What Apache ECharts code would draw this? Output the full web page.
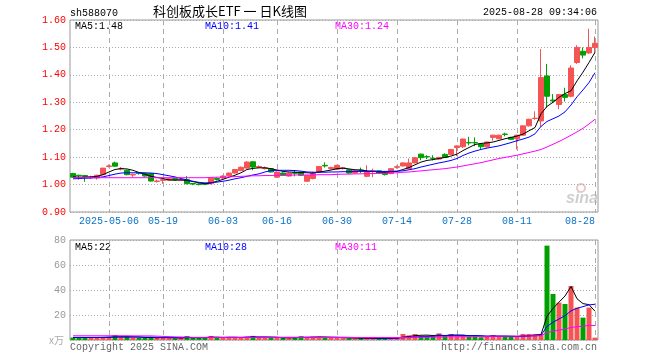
<!DOCTYPE html>
<html><head><meta charset="utf-8">
<script src="https://cdn.jsdelivr.net/npm/echarts@6/dist/echarts.min.js"></script>
<style>html,body{margin:0;padding:0;background:#fff}#c{width:660px;height:360px}</style>
</head><body><div id="c"></div>
<script>
const dates = [
'2025-04-23','2025-04-24','2025-04-25','2025-04-28','2025-04-29','2025-04-30',
'2025-05-06','2025-05-07','2025-05-08','2025-05-09','2025-05-12','2025-05-13','2025-05-14','2025-05-15','2025-05-16','2025-05-19','2025-05-20','2025-05-21','2025-05-22','2025-05-23','2025-05-26','2025-05-27','2025-05-28','2025-05-29','2025-05-30',
'2025-06-03','2025-06-04','2025-06-05','2025-06-06','2025-06-09','2025-06-10','2025-06-11','2025-06-12','2025-06-13','2025-06-16','2025-06-17','2025-06-18','2025-06-19','2025-06-20','2025-06-23','2025-06-24','2025-06-25','2025-06-26','2025-06-27','2025-06-30',
'2025-07-01','2025-07-02','2025-07-03','2025-07-04','2025-07-07','2025-07-08','2025-07-09','2025-07-10','2025-07-11','2025-07-14','2025-07-15','2025-07-16','2025-07-17','2025-07-18','2025-07-21','2025-07-22','2025-07-23','2025-07-24','2025-07-25','2025-07-28','2025-07-29','2025-07-30','2025-07-31',
'2025-08-01','2025-08-04','2025-08-05','2025-08-06','2025-08-07','2025-08-08','2025-08-11','2025-08-12','2025-08-13','2025-08-14','2025-08-15','2025-08-18','2025-08-19','2025-08-20','2025-08-21','2025-08-22','2025-08-25','2025-08-26','2025-08-27','2025-08-28'
];
const opens = [
1.040,1.034,1.033,1.026,1.024,1.036,
1.066,1.079,1.057,1.052,1.035,1.043,1.040,1.040,1.011,1.015,1.016,1.022,1.016,1.018,1.004,1.002,1.004,1.003,1.022,
1.024,1.033,1.042,1.051,1.060,1.083,1.063,1.058,1.058,1.027,1.042,1.031,1.043,1.045,1.012,1.022,1.046,1.070,1.058,1.056,
1.058,1.054,1.042,1.053,1.030,1.049,1.050,1.046,1.040,1.063,1.068,1.058,1.079,1.111,1.102,1.096,1.093,1.110,1.110,1.135,1.138,1.153,1.153,
1.148,1.138,1.172,1.167,1.184,1.172,1.167,1.180,1.214,1.241,1.232,1.396,1.308,1.292,1.328,1.322,1.445,1.486,1.480,1.500
];
const closes = [
1.027,1.032,1.030,1.028,1.034,1.060,
1.068,1.067,1.059,1.036,1.037,1.041,1.031,1.013,1.013,1.018,1.021,1.017,1.018,1.003,1.002,1.000,1.001,1.023,1.019,
1.031,1.042,1.055,1.063,1.082,1.064,1.066,1.061,1.046,1.046,1.034,1.042,1.041,1.034,1.033,1.040,1.066,1.068,1.062,1.070,
1.061,1.042,1.052,1.051,1.046,1.051,1.042,1.037,1.058,1.065,1.079,1.079,1.098,1.098,1.101,1.095,1.099,1.099,1.128,1.141,1.166,1.152,1.152,
1.138,1.155,1.180,1.180,1.183,1.165,1.180,1.214,1.238,1.242,1.390,1.322,1.305,1.328,1.318,1.425,1.500,1.472,1.500,1.515
];
const lows = [
1.025,1.018,1.010,1.020,1.018,1.035,
1.062,1.065,1.052,1.034,1.028,1.036,1.029,1.011,1.007,1.003,1.014,1.015,1.013,1.001,0.998,0.997,0.998,1.001,1.015,
1.020,1.031,1.040,1.049,1.058,1.052,1.060,1.055,1.044,1.025,1.031,1.029,1.030,1.031,1.010,1.019,1.044,1.062,1.055,1.054,
1.055,1.040,1.040,1.042,1.027,1.027,1.040,1.033,1.038,1.058,1.066,1.056,1.077,1.089,1.093,1.088,1.090,1.097,1.108,1.104,1.133,1.143,1.140,
1.128,1.135,1.160,1.165,1.176,1.163,1.128,1.178,1.212,1.236,1.210,1.280,1.297,1.275,1.303,1.318,1.440,1.460,1.476,1.478
];
const highs = [
1.043,1.036,1.035,1.032,1.036,1.061,
1.073,1.084,1.064,1.054,1.040,1.046,1.042,1.042,1.018,1.020,1.023,1.024,1.020,1.031,1.006,1.004,1.006,1.024,1.026,
1.034,1.044,1.057,1.066,1.085,1.086,1.070,1.066,1.060,1.048,1.045,1.044,1.053,1.048,1.035,1.047,1.068,1.081,1.065,1.072,
1.064,1.056,1.054,1.062,1.070,1.058,1.052,1.048,1.060,1.070,1.081,1.095,1.100,1.113,1.107,1.107,1.101,1.114,1.130,1.143,1.168,1.174,1.172,
1.150,1.157,1.182,1.182,1.189,1.174,1.182,1.216,1.240,1.267,1.494,1.440,1.330,1.330,1.353,1.435,1.508,1.500,1.568,1.540
];
const ma5 = [
1.028,1.027,1.027,1.028,1.030,1.036,
1.046,1.055,1.058,1.057,1.052,1.044,1.038,1.030,1.026,1.022,1.017,1.016,1.017,1.015,1.011,1.006,1.003,1.006,1.012,
1.019,1.027,1.034,1.043,1.055,1.059,1.061,1.061,1.058,1.053,1.048,1.046,1.045,1.044,1.043,1.042,1.046,1.049,1.053,1.058,
1.060,1.057,1.054,1.053,1.050,1.048,1.046,1.045,1.047,1.048,1.055,1.062,1.072,1.082,1.088,1.091,1.095,1.099,1.104,1.111,1.124,1.135,1.146,
1.150,1.152,1.155,1.161,1.167,1.172,1.177,1.184,1.196,1.208,1.258,1.285,1.300,1.318,1.332,1.342,1.378,1.410,1.445,1.482
];
const ma10 = [
1.021,1.022,1.023,1.024,1.026,1.028,
1.033,1.038,1.042,1.043,1.043,1.043,1.043,1.042,1.040,1.036,1.032,1.028,1.022,1.017,1.012,1.008,1.006,1.007,1.009,
1.012,1.016,1.021,1.025,1.030,1.035,1.039,1.046,1.051,1.052,1.052,1.052,1.051,1.049,1.046,1.045,1.045,1.045,1.046,1.046,
1.047,1.047,1.048,1.048,1.048,1.048,1.048,1.048,1.048,1.049,1.050,1.054,1.058,1.064,1.069,1.074,1.079,1.083,1.088,1.095,1.106,1.115,1.122,
1.128,1.133,1.137,1.141,1.147,1.153,1.160,1.166,1.173,1.185,1.212,1.230,1.240,1.250,1.265,1.290,1.320,1.345,1.372,1.408
];
const ma30 = [
1.025,1.025,1.025,1.025,1.025,1.025,
1.025,1.025,1.025,1.025,1.025,1.025,1.025,1.025,1.025,1.025,1.025,1.025,1.025,1.025,1.025,1.025,1.025,1.026,1.027,
1.027,1.028,1.029,1.030,1.031,1.032,1.032,1.033,1.033,1.034,1.034,1.034,1.035,1.035,1.035,1.035,1.036,1.036,1.036,1.037,
1.038,1.038,1.039,1.039,1.040,1.040,1.041,1.041,1.042,1.043,1.045,1.046,1.048,1.050,1.052,1.054,1.056,1.058,1.061,1.064,1.068,1.072,1.076,
1.080,1.085,1.090,1.095,1.099,1.103,1.107,1.112,1.117,1.122,1.128,1.137,1.147,1.157,1.168,1.180,1.192,1.205,1.221,1.238
];
const volumes = [
2.0,1.8,2.2,1.8,1.9,2.4,
2.6,4.0,2.2,2.4,1.8,1.7,1.6,2.3,1.8,1.9,1.5,1.4,1.6,3.2,1.8,1.6,1.7,3.2,2.0,
1.9,2.1,2.0,2.2,2.6,3.3,2.0,1.8,1.7,2.0,1.6,1.5,2.3,3.0,2.2,2.6,2.4,2.0,1.8,1.6,
1.5,1.3,1.2,1.3,1.5,1.2,1.1,1.3,1.9,2.4,4.8,3.7,4.8,3.2,3.3,3.0,5.3,3.2,4.8,3.0,3.2,2.6,2.5,
2.2,3.0,4.0,2.6,2.5,2.4,3.2,4.8,4.8,4.6,4.8,75.5,36.8,29.9,28.8,43.2,25.9,17.9,25.9,1.9
];
const volMa5 = [
2.0,2.0,2.0,2.0,2.0,2.1,
2.2,2.6,2.7,2.7,2.6,2.5,2.0,2.0,1.8,1.9,1.8,1.7,1.6,1.9,1.9,1.9,2.0,2.3,2.3,
2.1,2.2,2.2,2.0,2.2,2.4,2.4,2.4,2.3,2.2,1.8,1.7,1.8,2.1,2.1,2.3,2.5,2.4,2.2,2.1,
1.9,1.6,1.5,1.4,1.4,1.3,1.3,1.3,1.4,1.6,2.3,2.8,3.5,3.8,3.9,3.6,3.9,3.6,3.9,3.9,3.9,3.4,3.2,
2.7,2.7,2.9,2.9,2.9,2.9,2.9,3.1,3.5,4.0,4.4,18.9,25.3,30.3,35.2,42.8,33.0,29.1,28.3,23.0
];
const volMa10 = [
2.1,2.1,2.1,2.1,2.1,2.1,
2.2,2.3,2.3,2.3,2.3,2.3,2.3,2.3,2.2,2.2,2.1,2.0,1.9,1.9,1.9,1.9,1.8,2.0,2.0,
2.0,2.1,2.1,2.1,2.2,2.3,2.2,2.2,2.2,2.1,2.1,2.1,2.1,2.1,2.2,2.1,2.1,2.1,2.2,2.2,
2.2,2.1,2.0,1.8,1.7,1.6,1.5,1.4,1.4,1.5,1.8,2.0,2.4,2.6,2.8,3.0,3.4,3.5,3.8,3.8,3.7,3.5,3.6,
3.5,3.2,3.3,3.2,3.2,3.0,2.8,3.0,3.2,3.4,3.7,10.9,14.2,16.8,19.4,23.3,25.4,26.7,28.1,28.6
];
const volMa30 = [
3.4,3.4,3.4,3.4,3.4,3.4,
3.4,3.4,3.4,3.4,3.3,3.3,3.3,3.3,3.1,2.9,2.7,2.5,2.4,2.3,2.1,2.1,2.1,2.1,2.1,
2.1,2.1,2.1,2.1,2.1,2.1,2.1,2.1,2.1,2.1,2.1,2.1,2.1,2.1,2.1,2.1,2.0,2.0,2.0,2.0,
2.0,2.0,2.0,2.0,2.0,2.0,2.0,2.0,2.0,2.0,2.0,2.1,2.2,2.2,2.3,2.3,2.4,2.5,2.6,2.6,2.7,2.7,2.8,
2.8,2.9,2.9,3.0,3.0,3.1,3.1,3.2,3.3,3.4,3.5,5.9,7.0,7.9,8.8,10.0,10.6,11.1,11.7,11.6
];
const tickDates = ['2025-05-06','2025-05-19','2025-06-03','2025-06-16','2025-06-30','2025-07-14','2025-07-28','2025-08-11','2025-08-28'];
const tickLabels = ['2025-05-06','05-19','06-03','06-16','06-30','07-14','07-28','08-11','08-28'];
const priceTicks = [0.9, 1.6, 0.1];
const volTicks = [0, 80, 20];
const mainLegend = ['MA5:1.48','MA10:1.41','MA30:1.24'];
const volLegend = ['MA5:22','MA10:28','MA30:11'];
const headerCode = 'sh588070';
const headerTitle = '科创板成长ETF 一 日K线图';
const headerTime = '2025-08-28 09:34:06';

const RED = '#f65454', GREEN = '#00a000';
const MONO = "'Liberation Mono','DejaVu Sans Mono',monospace";
const isTick = (i, v) => tickDates.indexOf(v) >= 0 || tickDates.indexOf(dates[i]) >= 0;
const gridLineV = { show: true, interval: isTick, alignWithLabel: true, lineStyle: { color: '#aaa', type: [5, 4], width: 1 } };
const dotH = { show: true, lineStyle: { color: '#aaa', type: [1, 2], width: 1 } };

const chart = echarts.init(document.getElementById('c'), null, { renderer: 'canvas' });
const lineS = (name, data, color, xi) => ({
  name, type: 'line', data, xAxisIndex: xi, yAxisIndex: xi, symbol: 'none', silent: true,
  lineStyle: { color, width: 1 }, itemStyle: { color }, z: 3
});
const lt = (text, x, y, fill) => ({ type: 'text', silent: true, style: { text, x, y, fill, font: '10px ' + MONO, textVerticalAlign: 'middle' } });

chart.setOption({
  animation: false,
  backgroundColor: '#fff',
  grid: [
    { left: 70, right: 62, top: 20, bottom: 148, show: true, borderColor: '#999', borderWidth: 1, containLabel: false, outerBoundsMode: 'none' },
    { left: 70, right: 62, top: 240, bottom: 20, show: true, borderColor: '#999', borderWidth: 1, containLabel: false, outerBoundsMode: 'none' }
  ],
  xAxis: [
    { type: 'category', gridIndex: 0, data: dates, boundaryGap: true,
      axisLine: { show: false }, axisTick: { show: false, alignWithLabel: true },
      axisLabel: { interval: isTick, color: '#0b72c7', fontFamily: MONO, fontSize: 10, margin: 4, alignMaxLabel: 'right',
        formatter: v => { const k = tickDates.indexOf(v); return k >= 0 ? tickLabels[k] : ''; } },
      splitLine: gridLineV },
    { type: 'category', gridIndex: 1, data: dates, boundaryGap: true,
      axisLine: { show: false }, axisTick: { show: false, alignWithLabel: true }, axisLabel: { show: false },
      splitLine: gridLineV }
  ],
  yAxis: [
    { type: 'value', gridIndex: 0, min: priceTicks[0], max: priceTicks[1], interval: priceTicks[2], scale: true,
      axisLine: { show: false }, axisTick: { show: false },
      axisLabel: { color: '#ff0000', fontFamily: MONO, fontSize: 10, margin: 4, formatter: v => v.toFixed(2) },
      splitLine: dotH },
    { type: 'value', gridIndex: 1, min: volTicks[0], max: volTicks[1], interval: volTicks[2],
      axisLine: { show: false }, axisTick: { show: false },
      axisLabel: { color: '#999', fontFamily: MONO, fontSize: 10, margin: 4, formatter: v => v === 0 ? '' : String(v) },
      splitLine: dotH }
  ],
  series: [
    { type: 'candlestick', xAxisIndex: 0, yAxisIndex: 0, barWidth: 5, silent: true,
      data: dates.map((d, i) => [opens[i], closes[i], lows[i], highs[i]]),
      itemStyle: { color: RED, color0: GREEN, borderColor: RED, borderColor0: GREEN, borderWidth: 1 }, z: 2 },
    lineS('MA5', ma5, '#000000', 0),
    lineS('MA10', ma10, '#0000ff', 0),
    lineS('MA30', ma30, '#ff00ff', 0),
    { type: 'bar', xAxisIndex: 1, yAxisIndex: 1, barWidth: 5, silent: true, z: 2,
      data: volumes.map((v, i) => ({ value: v, itemStyle: { color: closes[i] >= opens[i] ? RED : GREEN } })) },
    lineS('VMA5', volMa5, '#000000', 1),
    lineS('VMA10', volMa10, '#0000ff', 1),
    lineS('VMA30', volMa30, '#ff00ff', 1)
  ],
  graphic: [
    lt(headerCode, 70, 13, '#000'),
    { type: 'text', silent: true, style: { text: headerTitle, x: 230, y: 11, fill: '#000', font: '13px "Noto Sans CJK SC", sans-serif', textAlign: 'center', textVerticalAlign: 'middle' } },
    { type: 'text', silent: true, style: { text: headerTime, x: 597, y: 12, fill: '#000', font: '10px ' + MONO, textAlign: 'right', textVerticalAlign: 'middle' } },
    lt(mainLegend[0], 75, 26, '#000'),
    lt(mainLegend[1], 205, 26, '#0000ff'),
    lt(mainLegend[2], 335, 26, '#ff00ff'),
    lt(volLegend[0], 75, 247, '#000'),
    lt(volLegend[1], 205, 247, '#0000ff'),
    lt(volLegend[2], 335, 247, '#ff00ff'),
    { type: 'text', silent: true, style: { text: 'x万', x: 64, y: 340, fill: '#aaa', font: '10px "Noto Sans CJK SC", sans-serif', textAlign: 'right', textVerticalAlign: 'middle' } },
    lt('Copyright 2025 SINA.COM', 70, 347, '#666'),
    { type: 'text', silent: true, style: { text: 'http://finance.sina.com.cn', x: 597, y: 347, fill: '#666', font: '10px ' + MONO, textAlign: 'right', textVerticalAlign: 'middle' } },
    { type: 'circle', silent: true, shape: { cx: 581, cy: 188, r: 4 }, style: { fill: 'none', stroke: '#e8c8c8', lineWidth: 2 } },
    { type: 'text', silent: true, style: { text: 'sina', x: 598, y: 199, fill: '#cfcfcf', font: 'italic bold 16px Arial, sans-serif', textAlign: 'right', textVerticalAlign: 'middle' } }
  ]
});
</script>
</body></html>
